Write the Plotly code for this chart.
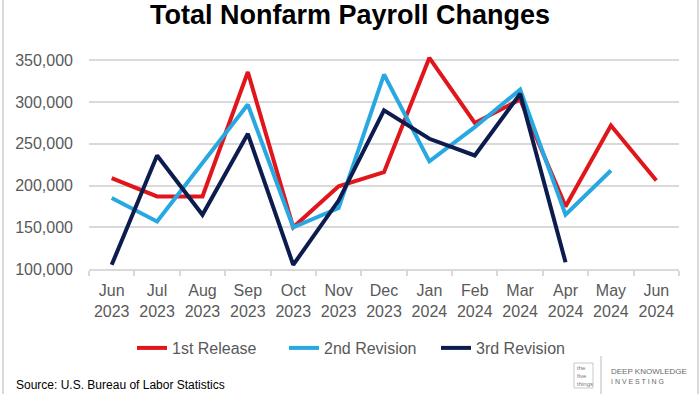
import plotly.graph_objects as go

months = ["Jun<br>2023", "Jul<br>2023", "Aug<br>2023", "Sep<br>2023", "Oct<br>2023", "Nov<br>2023",
          "Dec<br>2023", "Jan<br>2024", "Feb<br>2024", "Mar<br>2024", "Apr<br>2024", "May<br>2024",
          "Jun<br>2024"]
first_release = [209000, 187000, 187000, 336000, 150000, 199000, 216000, 353000, 275000, 303000, 175000, 272000, 206000]
second_revision = [185000, 157000, 227000, 297000, 150000, 173000, 333000, 229000, 270000, 315000, 165000, 218000]
third_revision = [105000, 236000, 165000, 262000, 105000, 182000, 290000, 256000, 236000, 310000, 108000]
y_ticks = [100000, 150000, 200000, 250000, 300000, 350000]

W, H = 700, 394
L, R, T, B = 89, 21, 52, 125
pw = W - L - R
ph = H - T - B

def px(xp):
    return (xp - L) / pw

def py(yp):
    return (H - B - yp) / ph

fig = go.Figure()
fig.add_trace(go.Scatter(x=months, y=first_release, name="1st Release", mode="lines",
                         line=dict(color="#E0161C", width=4)))
fig.add_trace(go.Scatter(x=months[:len(second_revision)], y=second_revision, name="2nd Revision", mode="lines",
                         line=dict(color="#28A8E0", width=4)))
fig.add_trace(go.Scatter(x=months[:len(third_revision)], y=third_revision, name="3rd Revision", mode="lines",
                         line=dict(color="#0C1C4E", width=4)))

font = "Liberation Sans, Arial, sans-serif"

fig.update_layout(
    width=W, height=H,
    margin=dict(l=L, r=R, t=T, b=B, autoexpand=False),
    paper_bgcolor="white", plot_bgcolor="white",
    title=dict(text="<b>Total Nonfarm Payroll Changes</b>", x=0.5, xref="container", xanchor="center",
               y=1 - 15 / H, yref="container", yanchor="middle",
               font=dict(family=font, size=27, color="#000000")),
    showlegend=True,
    legend=dict(orientation="h", x=px(132), xanchor="left", y=py(348), yanchor="middle",
                font=dict(family=font, size=16, color="#595959"), bgcolor="rgba(0,0,0,0)",
                itemwidth=30, tracegroupgap=0, entrywidth=107, entrywidthmode="pixels"),
    font=dict(family=font),
)

fig.update_xaxes(
    type="category", range=[-0.5, len(months) - 0.5],
    showline=True, linecolor="#D9D9D9", linewidth=1.5,
    showgrid=False, ticks="outside", ticklen=5, tickcolor="#D9D9D9", tickwidth=1.5,
    tickson="boundaries",
    tickfont=dict(family=font, size=16, color="#595959"),
    ticklabelstandoff=6,
    fixedrange=True,
)
fig.update_yaxes(
    range=[100000, 360000], tickvals=y_ticks, tickformat=",d",
    showgrid=True, gridcolor="#D9D9D9", gridwidth=1.5,
    zeroline=False, showline=False,
    tickfont=dict(family=font, size=16, color="#595959"),
    ticklabelstandoff=15,
    fixedrange=True,
)

# outer frame edges
fig.add_shape(type="line", xref="paper", yref="paper", x0=px(3), x1=px(3), y0=py(0), y1=py(H),
              line=dict(color="#D9D9D9", width=2))
fig.add_shape(type="line", xref="paper", yref="paper", x0=px(698), x1=px(698), y0=py(0), y1=py(H),
              line=dict(color="#D9D9D9", width=2))

# source note
fig.add_annotation(text="Source: U.S. Bureau of Labor Statistics", xref="paper", yref="paper",
                   x=px(14), y=py(385), xanchor="left", yanchor="middle", showarrow=False,
                   font=dict(family=font, size=12, color="#000000"))

# logo
fig.add_shape(type="line", xref="paper", yref="paper", x0=px(601), x1=px(601), y0=py(356), y1=py(394),
              line=dict(color="#BBBBBB", width=1))
fig.add_shape(type="rect", xref="paper", yref="paper", x0=px(574), x1=px(593), y0=py(363), y1=py(388),
              line=dict(color="#BBBBBB", width=0.8))
fig.add_annotation(text="the<br>five<br>things", xref="paper", yref="paper",
                   x=px(575), y=py(376), xanchor="left", yanchor="middle", showarrow=False, align="left",
                   font=dict(family=font, size=6, color="#7A7A7A"))
fig.add_annotation(text="DEEP KNOWLEDGE", xref="paper", yref="paper",
                   x=px(609), y=py(371), xanchor="left", yanchor="middle", showarrow=False,
                   font=dict(family=font, size=8, color="#6A6A6A"))
fig.add_annotation(text="I N V E S T I N G", xref="paper", yref="paper",
                   x=px(609), y=py(382), xanchor="left", yanchor="middle", showarrow=False,
                   font=dict(family=font, size=7, color="#6A6A6A"))

fig.write_html("out.html", config={"displayModeBar": False},
               post_script="document.body.style.margin='0px';document.body.style.overflow='hidden';")
